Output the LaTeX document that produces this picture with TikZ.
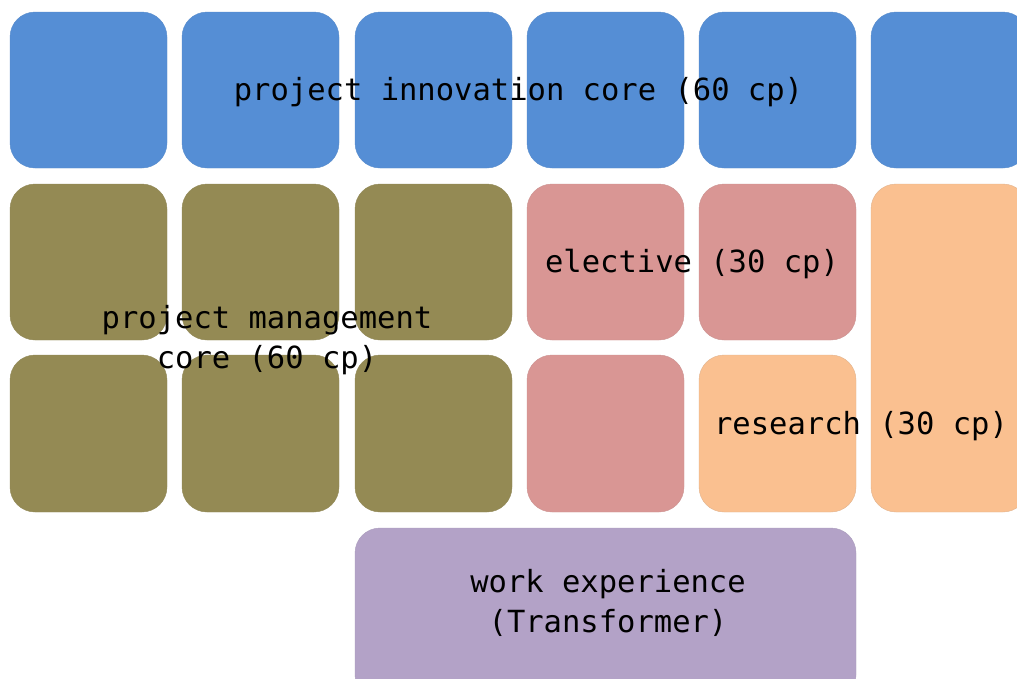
\documentclass[tikz,border=0pt]{standalone}
\usepackage{fontspec}
\setmonofont{DejaVu Sans Mono}
\definecolor{cblue}{HTML}{558ED5}
\definecolor{colive}{HTML}{948A54}
\definecolor{cpink}{HTML}{D99694}
\definecolor{cpeach}{HTML}{FAC090}
\definecolor{cpurple}{HTML}{B3A2C7}
\tikzset{
  tile/.style={rounded corners=25pt, line width=0.4pt},
  bluebox/.style={tile, fill=cblue, draw=cblue!90!gray},
  olivebox/.style={tile, fill=colive, draw=colive!90!gray},
  pinkbox/.style={tile, fill=cpink, draw=cpink!85!gray},
  peachbox/.style={tile, fill=cpeach, draw=cpeach!80!gray},
  purplebox/.style={tile, fill=cpurple, draw=cpurple!85!gray},
  lbl/.style={font=\ttfamily\fontsize{30.5}{40}\selectfont, text=black, align=center, inner sep=0pt}
}
\begin{document}
\begin{tikzpicture}[x=1pt,y=-1pt]
\useasboundingbox (0,0) rectangle (1017,678);
\clip (0,0) rectangle (1017,678);
\fill[white] (0,0) rectangle (1017,678);
% row 1 blue
\foreach \c/\x in {1/10,2/182,3/355,4/527,5/699,6/871}{
  \path[bluebox] (\x,12) rectangle ++(157,156) node[pos=0.5] (b\c) {};
}
% olive
\foreach \c/\x in {1/10,2/182,3/355}{
  \path[olivebox] (\x,184) rectangle ++(157,156) node[pos=0.5] (oa\c) {};
  \path[olivebox] (\x,355) rectangle ++(157,157) node[pos=0.5] (ob\c) {};
}
% pink
\path[pinkbox] (527,184) rectangle ++(157,156) node[pos=0.5] (p1) {};
\path[pinkbox] (699,184) rectangle ++(157,156) node[pos=0.5] (p2) {};
\path[pinkbox] (527,355) rectangle ++(157,157) node[pos=0.5] (p3) {};
% peach
\path[peachbox] (699,355) rectangle ++(157,157) node[pos=0.5] (r1) {};
\path[peachbox] (871,184) rectangle ++(157,328) node[pos=0.5] (r2) {};
% purple
\path[purplebox] (355,528) rectangle (856,700) node[pos=0.5] (w) {};
% labels
\node[lbl] (tinn) at (518.5,92) {project innovation core (60 cp)};
\node[lbl] (tele) at (692,264) {elective (30 cp)};
\node[lbl] (tman) at (267,340) {project management\\core (60 cp)};
\node[lbl] (tres) at (861,426) {research (30 cp)};
\node[lbl] (twork) at (608,603) {work experience\\(Transformer)};
\end{tikzpicture}
\end{document}
